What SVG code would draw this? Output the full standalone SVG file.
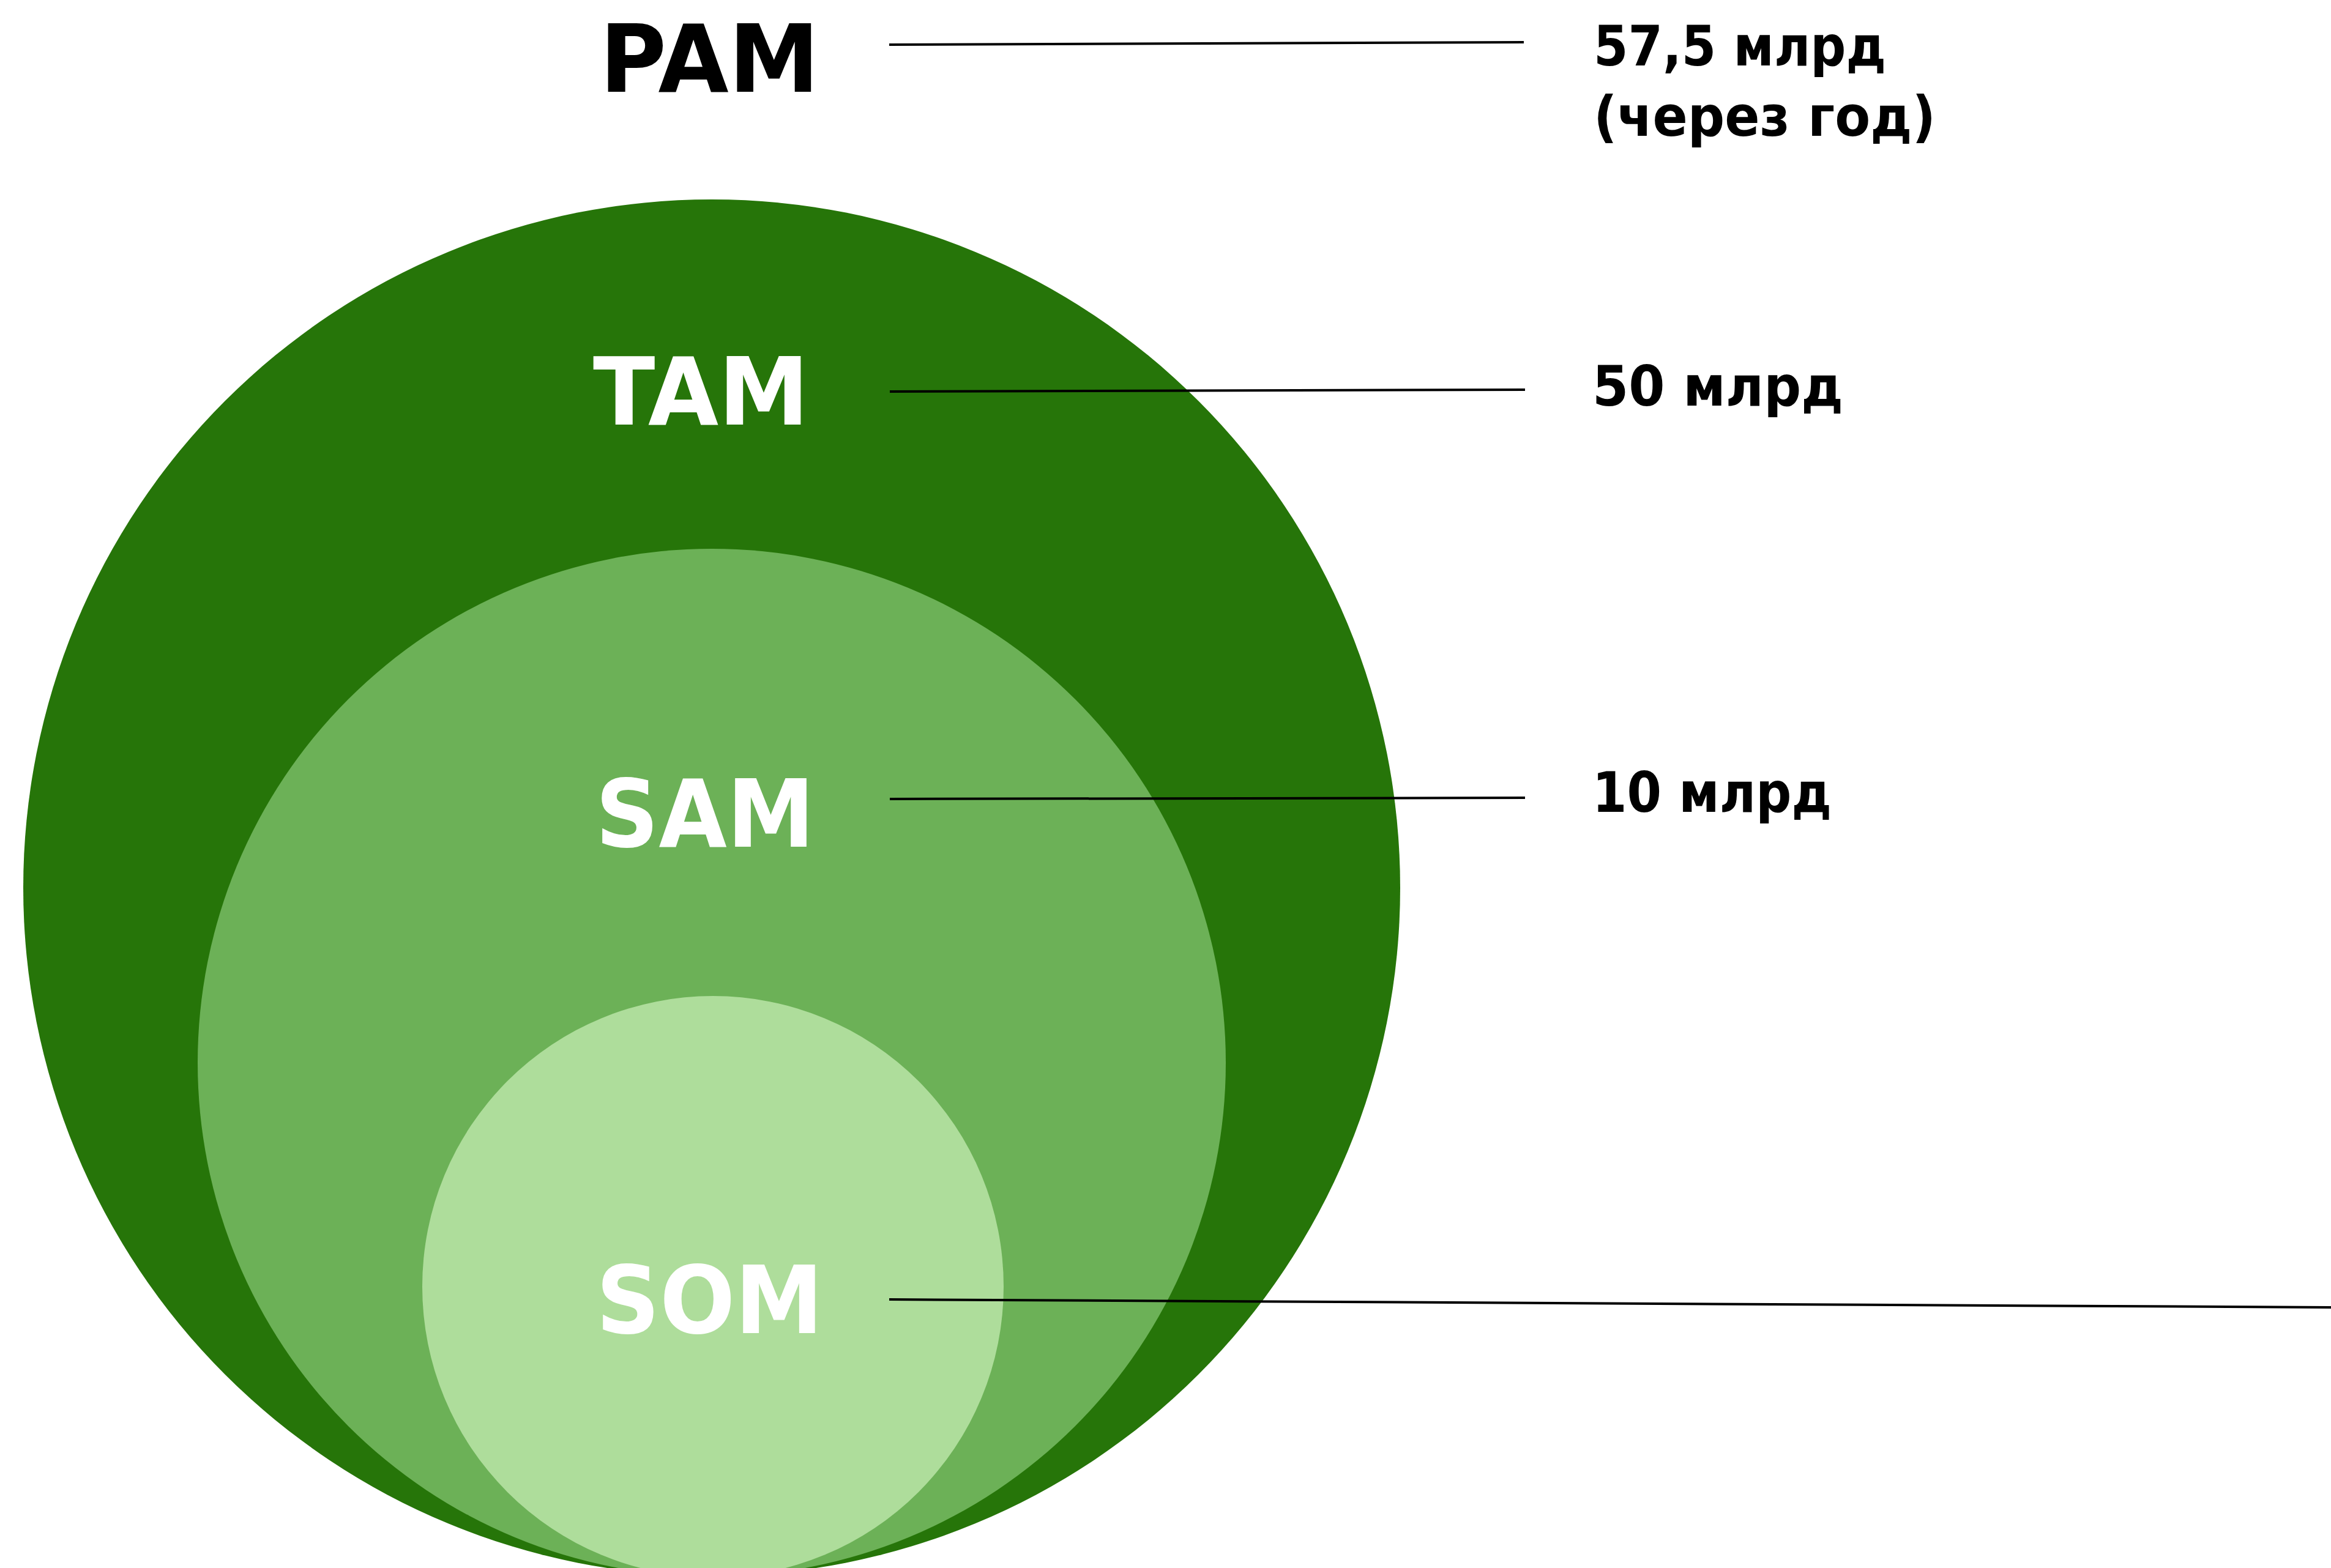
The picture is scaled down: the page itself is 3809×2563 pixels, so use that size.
<svg xmlns="http://www.w3.org/2000/svg" width="3809" height="2563" viewBox="0 0 3809 2563">
<style>
.big{font-family:"DejaVu Sans","Liberation Sans",sans-serif;font-weight:bold;font-size:154px}
.lbl{font-family:"DejaVu Sans","Liberation Sans",sans-serif;font-weight:bold;font-size:90px;fill:#000}
.conn{stroke:#000;stroke-width:4;fill:none}
</style>
<rect width="3809" height="2563" fill="#fff"/>
<g id="tam">
<circle cx="1163" cy="1451" r="1125" fill="#267509"/>
<text class="big" x="969" y="694" fill="#fff" textLength="353" lengthAdjust="spacingAndGlyphs">TAM</text>
</g>
<g id="sam">
<circle cx="1163" cy="1737" r="840" fill="#6cb157"/>
<text class="big" x="973" y="1384" fill="#fff" textLength="358" lengthAdjust="spacingAndGlyphs">SAM</text>
</g>
<g id="som">
<circle cx="1165" cy="2103" r="475" fill="#aedd9b"/>
<text class="big" x="974" y="2179" fill="#fff" textLength="371" lengthAdjust="spacingAndGlyphs">SOM</text>
</g>
<g id="pam">
<text class="big" x="980" y="150" fill="#000" textLength="359" lengthAdjust="spacingAndGlyphs">PAM</text>
</g>
<g id="connectors">
<line class="conn" x1="1453" y1="73" x2="2490" y2="69"/>
<line class="conn" x1="1454" y1="640" x2="2492" y2="637"/>
<line class="conn" x1="1454" y1="1306" x2="2492" y2="1304"/>
<line class="conn" x1="1453" y1="2124" x2="3809" y2="2137"/>
</g>
<g id="labels">
<text class="lbl" x="2604" y="107" textLength="478" lengthAdjust="spacingAndGlyphs">57,5 млрд</text>
<text class="lbl" x="2604" y="222" textLength="559" lengthAdjust="spacingAndGlyphs">(через год)</text>
<text class="lbl" x="2602" y="663" textLength="410" lengthAdjust="spacingAndGlyphs">50 млрд</text>
<text class="lbl" x="2602" y="1327" textLength="391" lengthAdjust="spacingAndGlyphs">10 млрд</text>
</g>
</svg>
